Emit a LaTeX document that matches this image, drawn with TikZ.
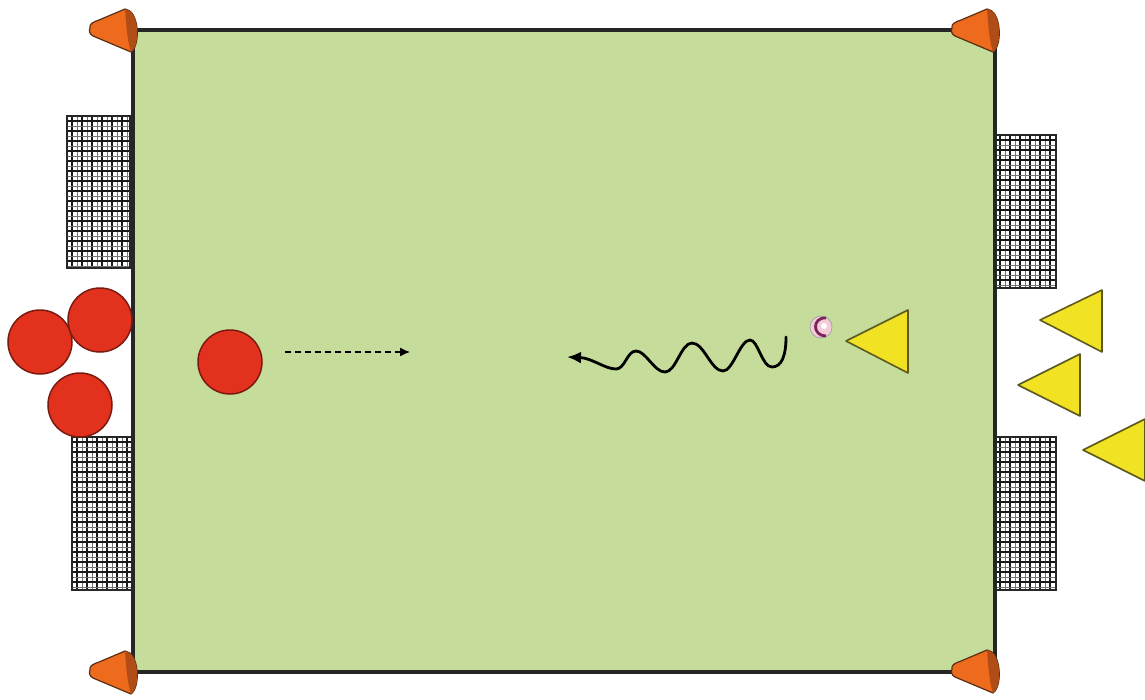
\documentclass[tikz,border=0pt]{standalone}
\usetikzlibrary{arrows.meta}
\definecolor{fieldgreen}{HTML}{C6DC9A}
\definecolor{redp}{HTML}{E2321E}
\definecolor{redline}{HTML}{7A1A10}
\definecolor{yellowp}{HTML}{F2E224}
\definecolor{yellowline}{HTML}{5E5A1E}
\definecolor{coneor}{HTML}{EE6A1C}
\definecolor{conedark}{HTML}{B04C16}
\definecolor{coneline}{HTML}{5A2E14}
\definecolor{ballpink}{HTML}{F4CCD8}
\definecolor{ballpurple}{HTML}{7A2458}
\begin{document}
\begin{tikzpicture}[x=1pt,y=-1pt,
  redplayer/.style={circle,fill=redp,draw=redline,line width=1.5pt,minimum size=64pt,inner sep=0pt},
  yelplayer/.style={fill=yellowp,draw=yellowline,line width=1.6pt,line join=round},
  netgrid/.style={draw=black!90,line width=1.5pt},
  netfine/.style={draw=black!55,line width=0.8pt},
  netframe/.style={draw=black!85,line width=1.8pt},
  conebody/.style={fill=coneor,draw=coneline,line width=1.2pt,line join=round},
  fieldline/.style={draw=black!85,line width=3.2pt}]
\useasboundingbox (0,0) rectangle (1145,699);
\fill[white] (0,0) rectangle (1145,699);
% field
\path[fill=fieldgreen] (133,30) rectangle (995,672);
% nets
\newcommand\mynet[4]{%
  \fill[white] (#1,#2) rectangle (#3,#4);
  \begin{scope}
    \clip (#1,#2) rectangle (#3,#4);
    \foreach \xx in {0,10,...,70} {\draw[netgrid] (#1+\xx+5,#2) -- (#1+\xx+5,#4);
                                   \draw[netfine] (#1+\xx+10,#2) -- (#1+\xx+10,#4);}
    \foreach \yy in {0,10,...,160} {\draw[netgrid] (#1,#2+\yy+5) -- (#3,#2+\yy+5);
                                    \draw[netfine] (#1,#2+\yy+10) -- (#3,#2+\yy+10);}
  \end{scope}
  \draw[netframe] (#1,#2) rectangle (#3,#4);}
\mynet{67}{116}{130}{268}
\mynet{72}{437}{133}{590}
\mynet{995}{135}{1056}{288}
\mynet{995}{437}{1056}{590}
% field border
\draw[fieldline] (133,30) rectangle (995,672);
% cones
\newcommand\mycone[2]{%
  \begin{scope}[shift={(#1,#2)}]
    \path[conebody] (-43,-2) .. controls (-44,-6) and (-40,-8) .. (-34,-10) -- (-8,-21) .. controls (6,-20) and (8,15) .. (-2,22) -- (-40,6) .. controls (-44,4) and (-44,0) .. (-43,-2) -- cycle;
    \fill[conedark] (-8,-21) .. controls (6,-20) and (8,15) .. (-2,22) .. controls (-6,10) and (-7,-8) .. (-8,-21);
  \end{scope}}
\mycone{133}{30}
\mycone{995}{30}
\mycone{133}{672}
\mycone{995}{671}
% red players
\node[redplayer] (r1) at (40,342) {};
\node[redplayer] (r2) at (100,320) {};
\node[redplayer] (r3) at (80,405) {};
\node[redplayer] (r4) at (230,362) {};
% dashed run
\coordinate (d1) at (285,352);
\coordinate (d2) at (410,352);
\draw[line width=1.3pt,dash pattern=on 6pt off 4pt,-{Latex[length=10pt,width=9pt]}] (d1) -- (d2);
% dribble
\coordinate (w0) at (786,337);
\coordinate (wend) at (567,357);
\draw[line width=2.8pt,line cap=round,line join=round,-{Latex[length=14pt,width=12pt]}]
  (w0) .. controls (786,355) and (782,367) .. (772,367)
  .. controls (762,367) and (758,340) .. (750,340)
  .. controls (740,340) and (733,371) .. (723,371)
  .. controls (711,371) and (704,343) .. (692,343)
  .. controls (681,343) and (676,372) .. (665,372)
  .. controls (654,372) and (646,351) .. (636,351)
  .. controls (627,351) and (625,369) .. (616,369)
  .. controls (605,369) and (592,358) .. (wend);
% ball
\node[circle,fill=ballpink,draw=black!35,line width=0.8pt,minimum size=22pt,inner sep=0pt] (ball) at (821,327) {};
\draw[ballpurple,line width=2.8pt] (826,318) .. controls (812,317) and (812,336) .. (826,336);
\fill[white] (824,326) circle (3);
% yellow players
\draw[yelplayer] (846,341) -- (908,310) -- (908,373) -- cycle;
\draw[yelplayer] (1040,320) -- (1102,290) -- (1102,352) -- cycle;
\draw[yelplayer] (1018,385) -- (1080,354) -- (1080,416) -- cycle;
\draw[yelplayer] (1083,450) -- (1145,419) -- (1145,481) -- cycle;
\end{tikzpicture}
\end{document}
